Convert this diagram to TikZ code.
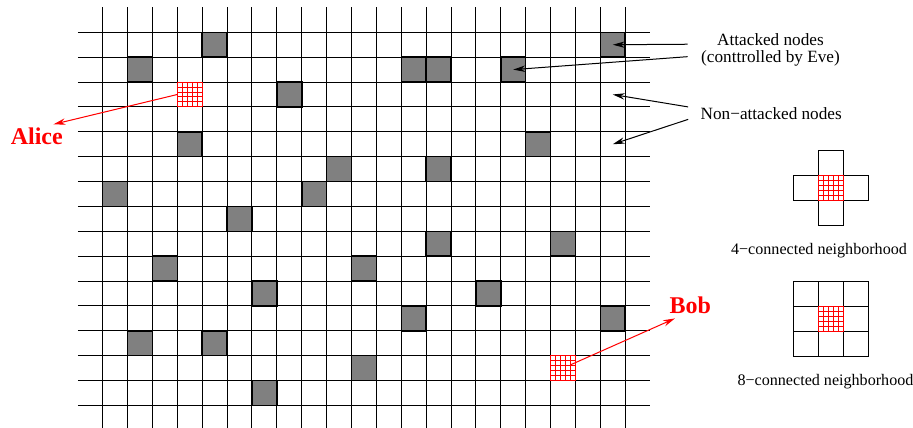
\documentclass[tikz,border=0pt]{standalone}
\usepackage{fontspec}
\setmainfont{Liberation Serif}
\usetikzlibrary{arrows.meta, calc}
\definecolor{cgray}{HTML}{808080}
\definecolor{cred}{HTML}{FF0000}
\tikzset{
  every picture/.style={line width=0.5pt},
  cell/.style={draw=black, minimum size=12.44pt, inner sep=0pt, outer sep=0pt},
  attacked/.style={cell, fill=cgray, line width=0.75pt},
  spot/.style={cell, draw=none},
  hatch/.style={cell, draw=cred, fill=white, path picture={
    \foreach \t in {0.2,0.4,0.6,0.8} {
      \draw[cred, line width=0.5pt] ($(path picture bounding box.south west)!\t!(path picture bounding box.south east)$) -- ($(path picture bounding box.north west)!\t!(path picture bounding box.north east)$);
      \draw[cred, line width=0.5pt] ($(path picture bounding box.south west)!\t!(path picture bounding box.north west)$) -- ($(path picture bounding box.south east)!\t!(path picture bounding box.north east)$);
    }}},
  arrow/.style={-{Stealth[length=6pt, width=3.2pt]}, line width=0.5pt},
  redarrow/.style={arrow, draw=cred, fill=cred},
  note/.style={font=\fontsize{8.6}{8.6}\selectfont, align=center, inner sep=0pt},
  small/.style={font=\fontsize{8.05}{9}\selectfont, inner sep=0pt},
  person/.style={font=\fontsize{12}{14}\selectfont\bfseries, text=cred, inner sep=0pt},
}

\begin{document}
\begin{tikzpicture}[x=12.44pt, y=-12.44pt]
  \useasboundingbox (-4.128,-1.298) rectangle (32.568,15.904);
  \foreach \i in {0,...,21} {\draw (\i,-1) -- (\i,15.95);}
  \foreach \j in {0,...,15} {\draw (-1,\j) -- (22,\j);}
  \foreach \c/\r [count=\k] in {4/0, 20/0, 1/1, 12/1, 13/1, 16/1, 7/2, 3/4, 17/4, 9/5, 13/5, 0/6, 8/6,
      5/7, 13/8, 18/8, 2/9, 10/9, 6/10, 15/10, 12/11, 20/11, 1/12, 4/12, 10/13, 6/14} {
    \node[attacked] (g\k) at (\c+0.5,\r+0.5) {};
  }
  \node[spot] (w1) at (20.5,2.5) {};
  \node[spot] (w2) at (20.5,4.5) {};
  \node[hatch] (alice) at (3.5,2.5) {};
  \node[hatch] (bob) at (18.5,13.5) {};
  \node[person] (alicetxt) at (-2.65,4.17) {Alice};
  \node[person] (bobtxt) at (23.62,10.98) {Bob};
  \coordinate (alicetip) at (-1.98,3.70);
  \coordinate (bobtip) at (23.0,11.5);
  \draw[redarrow] (alice.west) -- (alicetip);
  \draw[redarrow, shorten <=4pt] (bob.center) -- (bobtip);
  \node[note] (att) at (26.84,0.71) {Attacked nodes\\(conttrolled by Eve)};
  \node[note] (non) at (26.87,3.27) {Non−attacked nodes};
  \coordinate (a1) at (23.51,0.48);
  \coordinate (a2) at (23.51,0.98);
  \coordinate (n1) at (23.53,3.0);
  \coordinate (n2) at (23.53,3.5);
  \draw[arrow] (a1) -- (g2.center);
  \draw[arrow] (a2) -- (g6.center);
  \draw[arrow] (n1) -- (w1.center);
  \draw[arrow] (n2) -- (w2.center);
  \foreach \dx/\dy [count=\k] in {-1/0, 1/0, 0/-1, 0/1} {\node[cell] (f\k) at (29.26+\dx,6.26+\dy) {};}
  \node[hatch] (fc) at (29.26,6.26) {};
  \node[small] (ftxt) at (28.79,8.79) {4−connected neighborhood};
  \foreach \dx in {-1,0,1} {\foreach \dy in {-1,0,1} {\node[cell] (e\dx\dy) at (29.26+\dx,11.52+\dy) {};}}
  \node[hatch] (ec) at (29.26,11.52) {};
  \node[small] (etxt) at (29.05,14.06) {8−connected neighborhood};
\end{tikzpicture}
\end{document}
